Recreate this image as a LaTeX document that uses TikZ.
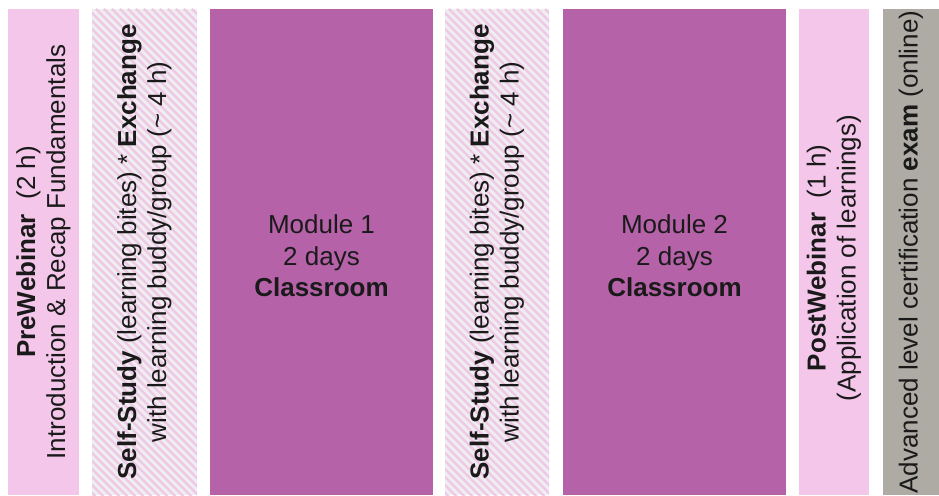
\documentclass[tikz,border=0pt]{standalone}
\usepackage{fontspec}
\setmainfont{Liberation Sans}
\usetikzlibrary{calc}
\definecolor{pinklight}{HTML}{F3C6EA}
\definecolor{plum}{HTML}{B562A9}
\definecolor{stone}{HTML}{ADABA4}
\definecolor{hatchbase}{HTML}{EFEDEF}
\definecolor{hatchline}{HTML}{EEC8E6}
\definecolor{ink}{HTML}{1A1A1A}

\begin{document}
\begin{tikzpicture}[x=1pt,y=1pt,
  box/.style={draw=none, inner sep=0pt, outer sep=0pt, anchor=south west, minimum height=486pt},
  txt/.style={text=ink, font=\fontsize{26}{30}\selectfont, align=center, inner sep=0pt},
  vtxt/.style={txt, rotate=90},
  hatched/.style={fill=hatchbase, path picture={
     \foreach \k in {0,...,80} {
        \draw[hatchline, line width=2.4pt]
          ($(path picture bounding box.north west)+(\k*8pt-500pt,0)$) -- ++(520pt,-520pt);
     }}}
]
\useasboundingbox (0,0) rectangle (939,495);

% blocks of the programme, left to right
\node[box, fill=pinklight, minimum width=71pt]  (pre)  at (8,0)   {};
\node[box, hatched,        minimum width=105pt] (ss1)  at (92,0)  {};
\node[box, fill=plum,      minimum width=223pt] (m1)   at (210,0) {};
\node[box, hatched,        minimum width=104pt] (ss2)  at (445,0) {};
\node[box, fill=plum,      minimum width=223pt] (m2)   at (563,0) {};
\node[box, fill=pinklight, minimum width=70pt]  (post) at (799,0) {};
\node[box, fill=stone,     minimum width=56pt]  (exam) at (883,0) {};

% labels
\node[vtxt] (preT) at (pre.center)
  {\textbf{PreWebinar}\ \ (2 h)\\Introduction \& Recap Fundamentals};
\node[vtxt] (ss1T) at (ss1.center)
  {\textbf{Self-Study} (learning bites) * \textbf{Exchange}\\with learning buddy/group (\textasciitilde{} 4 h)};
\node[txt, font=\fontsize{26}{31.5}\selectfont] (m1T) at ($(m1.center)+(0,-4)$)
  {Module 1\\2 days\\\textbf{Classroom}};
\node[vtxt] (ss2T) at (ss2.center)
  {\textbf{Self-Study} (learning bites) * \textbf{Exchange}\\with learning buddy/group (\textasciitilde{} 4 h)};
\node[txt, font=\fontsize{26}{31.5}\selectfont] (m2T) at ($(m2.center)+(0,-4)$)
  {Module 2\\2 days\\\textbf{Classroom}};
\node[vtxt] (postT) at ($(post.center)+(0,-6)$)
  {\textbf{PostWebinar}\ \ (1 h)\\(Application of learnings)};
\node[vtxt] (examT) at (exam.center)
  {Advanced level certification \textbf{exam} (online)};
\end{tikzpicture}
\end{document}
